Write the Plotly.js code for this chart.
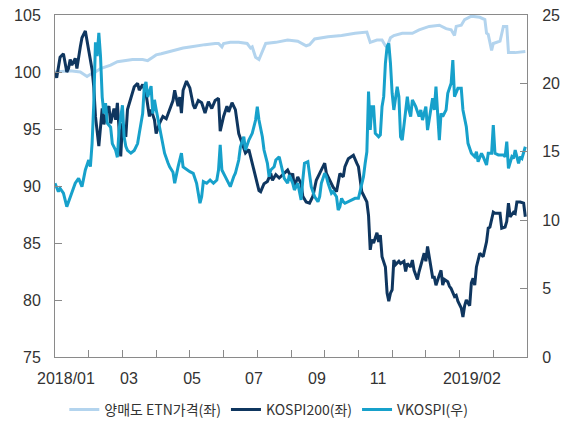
<!DOCTYPE html>
<html>
<head>
<meta charset="utf-8">
<script src="https://cdn.plot.ly/plotly-3.0.1.min.js"></script>
<style>html,body{margin:0;padding:0;background:#fff;}#chart{width:566px;height:423px;}</style>
</head>
<body>
<div id="chart"></div>
<script>
// trading-day index (0 = first trading day of 2018)
const etnDay = [0,9,15,19,21,24,27,33,37,41,46,52,55,58,60,63,68,72,76,80,84,89,95,97,99,100,104,109,114,116,117,119,121,123,125,131,138,144,147,149,151,154,162,170,178,185,187,191,194,196,197,199,201,206,212,216,222,228,232,235,237,238,241,243,247,252,255,256,257,259,260,264,266,268,269,273,279];
const etnPrice = [100.0,100.1,100.0,99.6,99.8,100.0,100.3,100.6,100.9,101.0,101.1,101.1,101.0,101.3,101.5,101.6,101.8,102.0,102.1,102.2,102.3,102.4,102.5,102.5,102.2,102.5,102.6,102.6,102.5,102.1,102.2,101.3,101.1,101.8,102.5,102.6,102.8,102.7,102.5,102.3,102.4,102.9,103.1,103.2,103.4,103.5,102.6,102.8,102.8,102.3,102.2,103.0,103.2,103.4,103.4,103.7,104.0,104.1,103.8,103.7,103.2,104.0,104.1,104.6,104.9,104.8,104.6,103.4,103.3,101.9,102.5,102.7,104.0,104.0,101.7,101.7,101.8];

const kospiDay = [0,1,3,5,7,8,9,10,12,13,15,16,18,19,20,22,23,24,26,27,28,29,31,32,33,35,36,37,39,40,42,43,45,47,49,50,52,54,56,57,59,60,62,64,66,68,70,71,73,74,75,76,78,80,82,83,85,87,89,91,93,95,97,98,100,102,103,105,107,109,111,113,115,117,119,121,122,124,126,128,129,131,133,136,138,140,141,142,144,146,147,149,151,153,155,157,159,160,161,163,165,167,168,169,171,172,174,176,177,179,180,182,183,185,186,187,188,189,191,192,193,194,196,197,198,199,200,201,202,204,205,207,208,209,211,212,213,215,216,218,219,220,221,222,224,225,226,228,229,230,231,233,234,235,237,238,239,241,242,243,244,246,247,248,249,250,251,252,254,256,257,258,260,261,264,265,267,268,269,270,272,273,274,276,278,279];
const kospi200 = [100.0,99.5,101.3,101.6,100.0,100.3,101.1,100.6,101.2,100.3,102.2,103.0,103.6,102.7,102.2,100.2,98.7,96.1,93.5,95.2,96.8,95.4,96.7,97.0,95.5,96.8,95.8,97.3,92.6,95.5,94.3,96.7,97.8,98.7,99.0,98.4,98.9,98.1,96.1,96.7,95.8,94.6,95.5,96.1,95.9,96.7,97.5,98.4,97.0,97.8,96.4,98.4,99.2,98.6,97.1,96.8,97.5,97.3,96.4,97.4,96.8,97.5,97.7,94.8,96.1,97.0,96.5,97.3,96.7,94.6,93.7,92.9,93.2,92.0,90.8,89.6,89.5,90.2,90.4,91.1,90.5,91.0,90.7,91.1,91.4,90.8,91.1,89.9,90.8,90.2,89.1,88.6,88.5,89.1,90.5,91.1,91.7,92.0,91.1,90.5,89.9,89.5,90.5,91.1,90.8,91.7,92.4,92.6,92.7,92.0,91.7,89.5,89.2,88.6,87.4,84.4,85.3,85.0,85.9,85.1,85.7,83.8,82.9,80.6,79.9,80.6,80.9,83.5,83.1,83.4,83.2,83.4,82.5,83.2,82.9,83.5,82.6,81.8,82.5,83.7,84.1,83.4,84.7,83.8,82.0,82.0,81.3,82.2,82.6,81.3,81.8,81.6,81.2,81.0,80.3,80.4,79.9,79.3,78.5,79.5,80.0,79.5,81.5,81.9,81.3,82.9,83.5,84.1,83.8,85.1,86.3,86.4,87.7,87.6,87.6,86.3,86.4,86.9,88.5,87.3,87.7,87.6,88.6,88.6,88.5,87.3];

const vkospiDay = [0,2,3,5,7,9,11,12,14,16,17,18,20,21,22,23,24,25,26,27,28,29,30,31,33,34,36,37,38,40,41,42,43,45,47,49,50,52,53,54,55,57,58,59,60,62,63,65,67,68,70,71,73,75,76,78,80,82,84,86,87,88,90,92,94,96,97,98,99,101,103,104,106,107,109,110,112,113,115,117,119,120,121,123,124,126,127,128,130,131,133,135,136,138,139,141,142,144,146,147,148,150,151,152,154,156,157,158,160,161,162,164,165,167,168,169,170,171,172,174,176,178,180,181,183,184,185,186,187,188,189,190,192,193,194,195,196,197,198,199,200,201,202,203,204,205,206,208,209,210,211,212,214,216,217,218,220,221,222,224,225,226,228,229,230,232,233,235,236,237,239,241,242,244,245,247,249,250,251,253,254,256,257,259,260,261,263,266,267,268,269,271,272,273,275,276,277,279];
const vkospi = [12.70,12.09,12.33,11.97,10.99,11.72,12.45,12.70,13.06,12.45,13.06,13.67,14.40,13.91,15.62,18.5,23.0,22.0,23.7,22.0,19.0,17.8,18.55,17.1,16.8,15.6,15.1,14.6,16.6,18.4,16.1,15.4,15.1,14.9,15.1,15.6,16.35,17.8,19.8,20.1,19.0,19.8,17.8,18.8,18.1,16.8,16.1,14.9,14.2,13.9,13.5,12.7,13.9,14.9,13.9,13.7,13.55,13.43,12.70,11.24,11.72,12.82,12.70,12.94,12.70,12.94,13.67,15.50,13.67,13.18,12.70,12.45,13.18,13.43,14.40,15.37,16.10,15.13,15.86,16.35,17.32,18.30,17.32,16.10,15.13,14.16,13.18,13.67,13.91,14.40,14.64,13.67,13.06,12.70,13.30,12.70,12.21,12.70,11.48,12.94,14.16,14.28,13.18,12.45,11.72,11.35,11.72,12.70,13.43,13.18,12.70,11.97,12.09,11.72,10.75,10.99,11.60,11.35,11.24,11.35,11.48,11.60,11.60,12.21,13.18,14.16,15.0,19.4,16.6,18.3,18.3,16.35,16.10,16.23,18.30,19.03,21.47,22.68,22.93,21.47,19.28,18.06,18.79,19.76,19.03,16.10,15.86,18.06,19.03,18.06,17.57,18.79,18.30,17.57,18.06,17.32,18.30,16.59,17.32,18.91,18.06,19.76,15.86,17.81,17.57,18.06,19.28,20.01,21.71,19.03,19.64,19.64,18.06,16.83,15.62,14.89,14.64,15.01,14.28,14.89,14.64,14.04,14.89,14.89,16.96,14.89,14.77,14.77,14.64,15.74,13.79,14.64,14.52,15.13,14.16,14.64,14.52,15.37];

const monthTickPos = [6.5,43.9,81.3,118,155.4,191.6,247.3];
const monthTickText = ['2018/01','03','05','07','09','11','2019/02'];

const names = ['양매도 ETN가격(좌)','KOSPI200(좌)','VKOSPI(우)'];
const colors = ['#b3d4ee','#0f365f','#17a1cb'];

const font = 'Liberation Sans, Arial, sans-serif';
const axisGray = '#8a8a8a';

const traces = [
  {x: etnDay, y: etnPrice, name: names[0], type: 'scatter', mode: 'lines', line: {color: colors[0], width: 3}, xaxis: 'x', yaxis: 'y'},
  {x: kospiDay, y: kospi200, name: names[1], type: 'scatter', mode: 'lines', line: {color: colors[1], width: 3}, xaxis: 'x', yaxis: 'y'},
  {x: vkospiDay, y: vkospi, name: names[2], type: 'scatter', mode: 'lines', line: {color: colors[2], width: 3}, xaxis: 'x', yaxis: 'y2'},
  // carrier for the month label axis (draws nothing)
  {x: monthTickPos, y: monthTickPos.map(() => null), type: 'scatter', mode: 'lines', xaxis: 'x2', yaxis: 'y',
   showlegend: false, hoverinfo: 'skip', line: {width: 0}}
];

const layout = {
  width: 566, height: 423,
  margin: {l: 55, r: 39, t: 15, b: 66},
  paper_bgcolor: '#fff', plot_bgcolor: '#fff',
  font: {family: font, size: 16, color: '#333'},
  showlegend: true,
  legend: {orientation: 'h', x: 0.453, xanchor: 'center', yref: 'container', y: 0.031, yanchor: 'middle',
           font: {family: 'Noto Sans CJK KR, sans-serif', size: 14, color: '#333'},
           traceorder: 'normal', itemwidth: 30, tracegroupgap: 0},
  xaxis: {range: [0, 280], tick0: 0, dtick: 20, ticks: 'inside', ticklen: 7, tickcolor: axisGray,
          showticklabels: false, showline: true, linecolor: axisGray, linewidth: 1, mirror: true,
          showgrid: false, zeroline: false, fixedrange: true},
  xaxis2: {range: [0, 280], overlaying: 'x', anchor: 'y', side: 'bottom', tickmode: 'array',
           tickvals: monthTickPos, ticktext: monthTickText, ticks: '', showline: false,
           showgrid: false, zeroline: false, ticklabelstandoff: 10,
           tickfont: {family: font, size: 16, color: '#333'}},
  yaxis: {range: [75, 105], dtick: 5, ticks: 'inside', ticklen: 7, tickcolor: axisGray,
          showline: true, linecolor: axisGray, linewidth: 1, showgrid: false, zeroline: false,
          ticklabelstandoff: 10, tickfont: {family: font, size: 16, color: '#333'}},
  yaxis2: {range: [0, 25], dtick: 5, overlaying: 'y', side: 'right', anchor: 'x', ticks: 'inside', ticklen: 7,
           tickcolor: axisGray, showline: true, linecolor: axisGray, linewidth: 1, showgrid: false,
           zeroline: false, ticklabelstandoff: 11, tickfont: {family: font, size: 16, color: '#333'}}
};

Plotly.newPlot('chart', traces, layout, {displayModeBar: false, staticPlot: true});
</script>
</body>
</html>
